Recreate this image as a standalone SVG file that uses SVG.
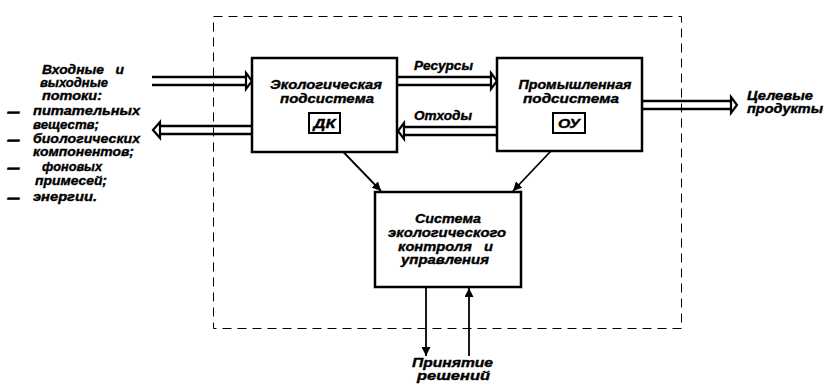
<svg xmlns="http://www.w3.org/2000/svg" width="826" height="385" viewBox="0 0 826 385">
<style>
.box{fill:#fff;stroke:#000;stroke-width:2.5}
.sbox{fill:#fff;stroke:#000;stroke-width:2}
.ln{stroke:#000;stroke-width:2.5;fill:none}
.thin{stroke:#000;stroke-width:1.8;fill:none}
.hh{fill:#fff;stroke:#000;stroke-width:2.2;stroke-linejoin:miter}
.dash{fill:none;stroke:#000;stroke-width:1;stroke-dasharray:9,6}
text{font-family:"Liberation Sans",Arial,sans-serif;font-weight:bold;font-style:italic;font-size:12px;fill:#000;stroke:#000;stroke-width:0.35}
.c{text-anchor:middle}
.d{font-size:14px;stroke-width:0.6}
</style>
<defs>
<marker id="ah" viewBox="0 0 10 10" refX="10" refY="5" markerWidth="5" markerHeight="5" orient="auto" markerUnits="strokeWidth">
<path d="M0,0 L10,5 L0,10 Z" fill="#000"/>
</marker>
</defs>
<rect class="dash" x="213.5" y="16.5" width="468" height="312"/>
<g id="connectors">
<line class="ln" x1="152" y1="77" x2="247" y2="77"/>
<line class="ln" x1="152" y1="85" x2="247" y2="85"/>
<polygon class="hh" points="246,73 252,81 246,89"/>
<line class="ln" x1="159" y1="126" x2="252" y2="126"/>
<line class="ln" x1="159" y1="134" x2="252" y2="134"/>
<polygon class="hh" points="160,122 153,130 160,138"/>
<line class="ln" x1="397" y1="77" x2="491" y2="77"/>
<line class="ln" x1="397" y1="85" x2="491" y2="85"/>
<polygon class="hh" points="491,73 497,81 491,89"/>
<line class="ln" x1="403" y1="127" x2="497" y2="127"/>
<line class="ln" x1="403" y1="135" x2="497" y2="135"/>
<polygon class="hh" points="404,123 398,131 404,139"/>
<line class="ln" x1="642" y1="101" x2="731" y2="101"/>
<line class="ln" x1="642" y1="109" x2="731" y2="109"/>
<polygon class="hh" points="731,97 737,105 731,113"/>
<line class="thin" x1="325" y1="133" x2="381" y2="191" marker-end="url(#ah)"/>
<line class="thin" x1="568" y1="133" x2="513" y2="191" marker-end="url(#ah)"/>
<line class="thin" x1="426" y1="287" x2="426" y2="356" marker-end="url(#ah)"/>
<line class="thin" x1="469" y1="356" x2="469" y2="288" marker-end="url(#ah)"/>
</g>
<g id="eco">
<rect class="box" x="252" y="58" width="145" height="94"/>
<text class="c" x="326" y="89" textLength="112" lengthAdjust="spacingAndGlyphs">Экологическая</text>
<text class="c" x="327" y="103" textLength="94" lengthAdjust="spacingAndGlyphs">подсистема</text>
<rect class="sbox" x="309" y="113" width="31" height="20"/>
<text class="c" x="324.5" y="128" textLength="22" lengthAdjust="spacingAndGlyphs">ДК</text>
</g>
<g id="industry">
<rect class="box" x="497" y="58" width="145" height="93"/>
<text class="c" x="575" y="89" textLength="113" lengthAdjust="spacingAndGlyphs">Промышленная</text>
<text class="c" x="571" y="103" textLength="96" lengthAdjust="spacingAndGlyphs">подсистема</text>
<rect class="sbox" x="553" y="113" width="32" height="20"/>
<text class="c" x="569" y="128" textLength="22" lengthAdjust="spacingAndGlyphs">ОУ</text>
</g>
<g id="control">
<rect class="box" x="375" y="192" width="146" height="95"/>
<text class="c" x="448" y="223" textLength="66" lengthAdjust="spacingAndGlyphs">Система</text>
<text class="c" x="447" y="237" textLength="118" lengthAdjust="spacingAndGlyphs">экологического</text>
<text x="398" y="251" textLength="95" lengthAdjust="spacingAndGlyphs" xml:space="preserve">контроля   и</text>
<text class="c" x="445" y="264" textLength="88" lengthAdjust="spacingAndGlyphs">управления</text>
</g>
<g id="labels">
<text x="414" y="70" textLength="59" lengthAdjust="spacingAndGlyphs">Ресурсы</text>
<text x="414" y="120" textLength="58" lengthAdjust="spacingAndGlyphs">Отходы</text>
<text x="747" y="100" textLength="66" lengthAdjust="spacingAndGlyphs">Целевые</text>
<text x="747" y="113" textLength="76" lengthAdjust="spacingAndGlyphs">продукты</text>
<text x="412" y="367" textLength="81" lengthAdjust="spacingAndGlyphs">Принятие</text>
<text x="417" y="380" textLength="73" lengthAdjust="spacingAndGlyphs">решений</text>
</g>
<g id="flows">
<text x="42" y="74" textLength="82" lengthAdjust="spacingAndGlyphs" xml:space="preserve">Входные   и</text>
<text x="40" y="87" textLength="68" lengthAdjust="spacingAndGlyphs">выходные</text>
<text x="42" y="100" textLength="60" lengthAdjust="spacingAndGlyphs">потоки:</text>
<text class="d" x="7" y="117" textLength="13" lengthAdjust="spacingAndGlyphs">–</text>
<text x="33" y="115" textLength="107" lengthAdjust="spacingAndGlyphs">питательных</text>
<text x="33" y="129" textLength="66" lengthAdjust="spacingAndGlyphs">веществ;</text>
<text class="d" x="7" y="145" textLength="13" lengthAdjust="spacingAndGlyphs">–</text>
<text x="33" y="143" textLength="107" lengthAdjust="spacingAndGlyphs">биологических</text>
<text x="33" y="156" textLength="101" lengthAdjust="spacingAndGlyphs">компонентов;</text>
<text class="d" x="7" y="173" textLength="13" lengthAdjust="spacingAndGlyphs">–</text>
<text x="42" y="171" textLength="60" lengthAdjust="spacingAndGlyphs">фоновых</text>
<text x="35" y="185" textLength="72" lengthAdjust="spacingAndGlyphs">примесей;</text>
<text class="d" x="7" y="203" textLength="13" lengthAdjust="spacingAndGlyphs">–</text>
<text x="33" y="201" textLength="64" lengthAdjust="spacingAndGlyphs">энергии.</text>
</g>
</svg>
